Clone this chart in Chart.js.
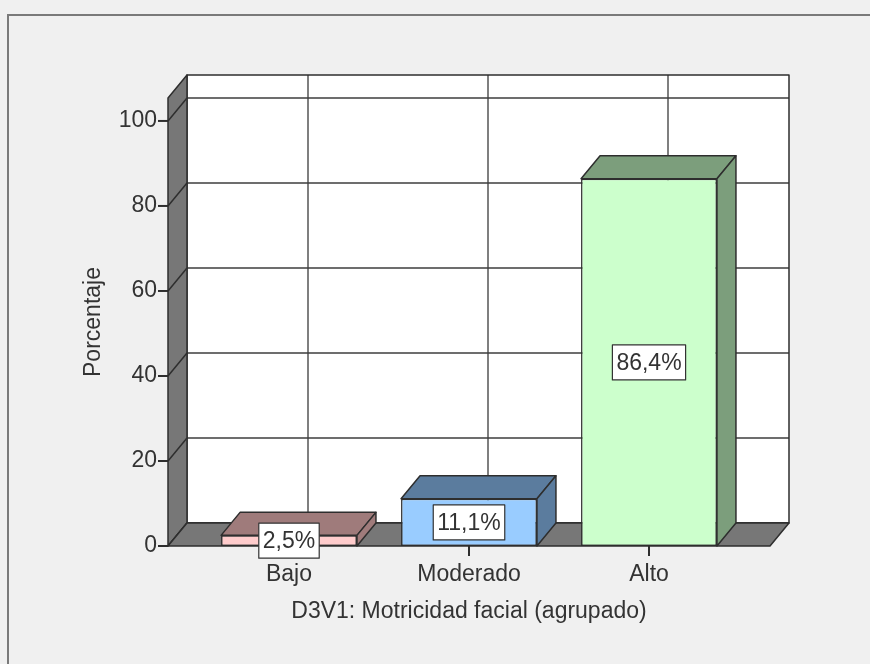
<!DOCTYPE html>
<html>
<head>
<meta charset="utf-8">
<script src="https://cdn.jsdelivr.net/npm/chart.js@4.4.1/dist/chart.umd.min.js"></script>
<style>
  html, body { margin: 0; padding: 0; background: #f0f0f0; }
  canvas { display: block; }
</style>
</head>
<body>
<canvas id="chart" width="870" height="664"></canvas>
<script>
// Category labels, percentages and axis ticks
const categories = ['Bajo', 'Moderado', 'Alto'];
const percentages = [2.5, 11.1, 86.4];
const yTicks = [0, 20, 40, 60, 80, 100];
const yMax = 105.4;

// Face colours for each bar (front face, top/side faces)
const frontColors = ['#ffcccc', '#99ccff', '#ccffcc'];
const depthColors = ['#9f7b7b', '#5b7c9e', '#7c9e7c'];

const FONT = '"Liberation Sans", Arial, sans-serif';
const FSIZE = 23;
const TEXT = '#333333';
const LINE = '#2e2e2e';
const DEPTH_X = 19;     // receding offset of the 3D box
const DEPTH_Y = 23;
const SIDE = 31;        // floor extends past the outer categories
const WALL = '#777777';

const fmtPct = v => v.toFixed(1).replace('.', ',') + '%';

const box3d = {
  id: 'box3d',
  beforeDraw(chart) {
    const ctx = chart.ctx;
    ctx.save();
    ctx.fillStyle = '#f0f0f0';
    ctx.fillRect(0, 0, chart.width, chart.height);
    // outer frame
    ctx.strokeStyle = '#7a7a7a';
    ctx.lineWidth = 2;
    ctx.beginPath();
    ctx.moveTo(8, chart.height);
    ctx.lineTo(8, 15);
    ctx.lineTo(chart.width, 15);
    ctx.stroke();
    ctx.restore();
  },
  beforeDatasetsDraw(chart) {
    const ctx = chart.ctx;
    const a = chart.chartArea;
    const ys = chart.scales.y, xs = chart.scales.x;
    const fl = a.left - SIDE, fr = a.right + SIDE;     // front floor edges
    const bl = fl + DEPTH_X, br = fr + DEPTH_X;         // back wall edges
    const top = a.top, bot = a.bottom;
    ctx.save();
    ctx.lineJoin = 'round';

    // back wall
    ctx.fillStyle = '#ffffff';
    ctx.fillRect(bl, top - DEPTH_Y, br - bl, bot - top);

    // vertical grid on back wall at category centres
    ctx.strokeStyle = '#555555';
    ctx.lineWidth = 1.5;
    categories.forEach((c, i) => {
      const x = xs.getPixelForValue(i) + DEPTH_X;
      ctx.beginPath();
      ctx.moveTo(x, top - DEPTH_Y);
      ctx.lineTo(x, bot - DEPTH_Y);
      ctx.stroke();
    });
    // horizontal grid on back wall
    ctx.strokeStyle = '#3c3c3c';
    yTicks.forEach(v => {
      const y = ys.getPixelForValue(v) - DEPTH_Y;
      ctx.beginPath();
      ctx.moveTo(bl, y);
      ctx.lineTo(br, y);
      ctx.stroke();
    });
    ctx.strokeStyle = LINE;
    ctx.strokeRect(bl, top - DEPTH_Y, br - bl, bot - top);

    // left side wall
    ctx.fillStyle = WALL;
    ctx.beginPath();
    ctx.moveTo(fl, top);
    ctx.lineTo(bl, top - DEPTH_Y);
    ctx.lineTo(bl, bot - DEPTH_Y);
    ctx.lineTo(fl, bot);
    ctx.closePath();
    ctx.fill();
    ctx.stroke();
    yTicks.forEach(v => {
      const y = ys.getPixelForValue(v);
      ctx.beginPath();
      ctx.moveTo(fl, y);
      ctx.lineTo(bl, y - DEPTH_Y);
      ctx.stroke();
    });

    // floor
    ctx.beginPath();
    ctx.moveTo(fl, bot);
    ctx.lineTo(bl, bot - DEPTH_Y);
    ctx.lineTo(br, bot - DEPTH_Y);
    ctx.lineTo(fr, bot);
    ctx.closePath();
    ctx.fill();
    ctx.stroke();

    // y tick marks on the front edge
    ctx.lineWidth = 2;
    yTicks.forEach(v => {
      const y = ys.getPixelForValue(v);
      ctx.beginPath();
      ctx.moveTo(fl - 10, y);
      ctx.lineTo(fl, y);
      ctx.stroke();
    });
    ctx.restore();
  },
  afterDatasetsDraw(chart) {
    const ctx = chart.ctx;
    const meta = chart.getDatasetMeta(0);
    ctx.save();
    ctx.lineJoin = 'round';
    ctx.lineWidth = 1.5;
    ctx.strokeStyle = LINE;
    meta.data.forEach((bar, i) => {
      const half = bar.width / 2;
      const x1 = bar.x - half, x2 = bar.x + half;
      const yt = bar.y, yb = bar.base;
      ctx.fillStyle = depthColors[i];
      // top face
      ctx.beginPath();
      ctx.moveTo(x1, yt);
      ctx.lineTo(x1 + DEPTH_X, yt - DEPTH_Y);
      ctx.lineTo(x2 + DEPTH_X, yt - DEPTH_Y);
      ctx.lineTo(x2, yt);
      ctx.closePath();
      ctx.fill();
      ctx.stroke();
      // side face
      ctx.beginPath();
      ctx.moveTo(x2, yt);
      ctx.lineTo(x2 + DEPTH_X, yt - DEPTH_Y);
      ctx.lineTo(x2 + DEPTH_X, yb - DEPTH_Y);
      ctx.lineTo(x2, yb);
      ctx.closePath();
      ctx.fill();
      ctx.stroke();
    });
    // value labels
    ctx.font = FSIZE + 'px ' + FONT;
    ctx.textAlign = 'center';
    ctx.textBaseline = 'middle';
    meta.data.forEach((bar, i) => {
      const txt = fmtPct(percentages[i]);
      const w = ctx.measureText(txt).width + 8;
      const h = 35;
      const cy = (bar.y + bar.base) / 2;
      ctx.fillStyle = '#ffffff';
      ctx.fillRect(bar.x - w / 2, cy - h / 2, w, h);
      ctx.lineWidth = 1.2;
      ctx.strokeStyle = '#333333';
      ctx.strokeRect(bar.x - w / 2, cy - h / 2, w, h);
      ctx.fillStyle = TEXT;
      ctx.fillText(txt, bar.x, cy + 1);
    });
    ctx.restore();
  }
};

new Chart(document.getElementById('chart'), {
  type: 'bar',
  data: {
    labels: categories,
    datasets: [{
      data: percentages,
      backgroundColor: frontColors,
      borderColor: LINE,
      borderWidth: 1.5,
      borderSkipped: false,
      barPercentage: 0.755,
      categoryPercentage: 1
    }]
  },
  options: {
    responsive: false,
    animation: false,
    events: [],
    layout: { padding: { left: 0, top: 98, right: 131, bottom: 0 } },
    plugins: { legend: { display: false }, tooltip: { enabled: false } },
    scales: {
      x: {
        offset: true,
        afterFit: s => { s.height = 118; },
        grid: { display: true, drawOnChartArea: false, drawTicks: true, tickLength: 10, offset: false, color: LINE, lineWidth: 2 },
        border: { display: false },
        ticks: { color: TEXT, font: { family: FONT, size: FSIZE }, padding: 5, maxRotation: 0 },
        title: { display: true, text: 'D3V1: Motricidad facial (agrupado)', color: TEXT, font: { family: FONT, size: FSIZE }, padding: { top: 0, bottom: 39 } }
      },
      y: {
        min: 0,
        max: yMax,
        afterFit: s => { s.width = 199; },
        afterBuildTicks: s => { s.ticks = yTicks.map(v => ({ value: v })); },
        grid: { display: false, drawTicks: false },
        border: { display: false },
        ticks: { color: TEXT, font: { family: FONT, size: FSIZE }, padding: 42 },
        title: { display: true, text: 'Porcentaje', color: TEXT, font: { family: FONT, size: FSIZE }, padding: { top: 80, bottom: 0 } }
      }
    }
  },
  plugins: [box3d]
});
</script>
</body>
</html>
